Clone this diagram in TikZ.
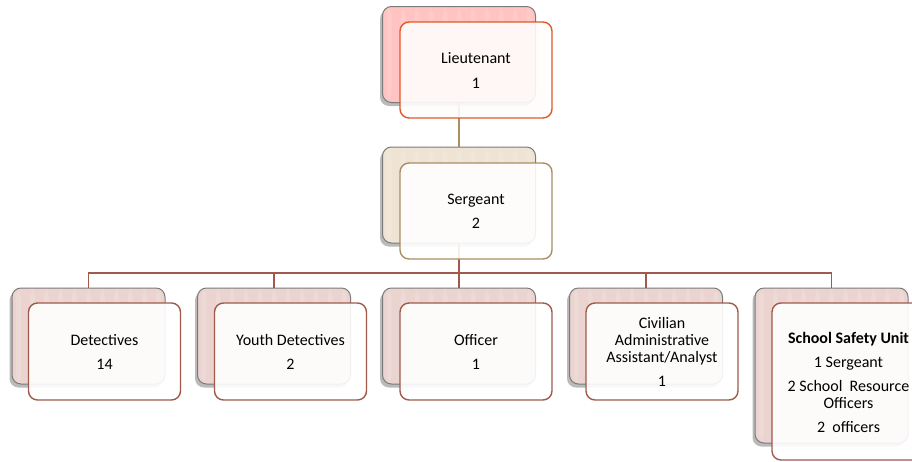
\documentclass[tikz,border=0pt]{standalone}
\usepackage{fontspec}
\setmainfont{Carlito}
\usetikzlibrary{shadows}
\definecolor{ltback}{HTML}{FFC3C1}
\definecolor{ltline}{HTML}{E0582A}
\definecolor{sgback}{HTML}{EFE3D4}
\definecolor{sgline}{HTML}{A88E62}
\definecolor{bback}{HTML}{EBD4D0}
\definecolor{bline}{HTML}{A0594B}
\definecolor{gborder}{HTML}{7A7A7A}
\tikzset{
  stripes/.style={path picture={\foreach \k in {0,...,11}{\fill[white,opacity=0.12] ([xshift=\k*14pt+4pt]path picture bounding box.north west) rectangle ([xshift=\k*14pt+9pt]path picture bounding box.south west);}}},
  backbox/.style={rectangle, rounded corners=9pt, draw=gborder, line width=1pt, minimum width=153pt, minimum height=96pt, inner sep=0pt, stripes, drop shadow={shadow xshift=-2.5pt, shadow yshift=-3.5pt, opacity=0.45, fill=black!60}},
  frontbox/.style={rectangle, rounded corners=9pt, line width=1.4pt, fill=white, fill opacity=0.9, text opacity=1, minimum width=152pt, minimum height=96pt, inner sep=0pt, align=center, font=\fontsize{16}{17}\selectfont},
  conn/.style={line width=1.8pt},
}
\begin{document}
\begin{tikzpicture}[x=1pt,y=-1pt]
\useasboundingbox (0,0) rectangle (912,461);
\clip (0,0) rectangle (912,461);
% back boxes
\node[backbox, fill=ltback] (ltb) at (459,54.5) {};
\node[backbox, fill=sgback] (sgb) at (459,195) {};
\node[backbox, fill=bback] (detb) at (88.5,336) {};
\node[backbox, fill=bback] (youb) at (274,336) {};
\node[backbox, fill=bback] (offb) at (459,336) {};
\node[backbox, fill=bback] (civb) at (646,336) {};
\node[backbox, fill=bback, minimum height=155pt] (schb) at (831.5,365.5) {};
% connectors
\coordinate (bus) at (459,273);
\draw[conn, sgline] (ltb.south) -- (sgb.north);
\draw[conn, bline] (sgb.south) -- (bus) -| (detb.north);
\draw[conn, bline] (bus) -| (youb.north);
\draw[conn, bline] (bus) -- (offb.north);
\draw[conn, bline] (bus) -| (civb.north);
\draw[conn, bline] (bus) -| (schb.north);
% front boxes
\node[frontbox, draw=ltline, fill=red!1] (lt) at (476,70) {Lieutenant\\[8pt]1};
\node[frontbox, draw=sgline] (sg) at (476,211) {Sergeant\\[7pt]2};
\node[frontbox, draw=bline, minimum height=97pt] (det) at (104.5,351.5) {Detectives\\[7pt]14};
\node[frontbox, draw=bline, minimum height=97pt] (you) at (290.5,351.5) {Youth Detectives\\[7pt]2};
\node[frontbox, draw=bline, minimum height=97pt] (off) at (476,351.5) {Officer\\[7pt]1};
\node[frontbox, draw=bline, minimum height=97pt] (civ) at (662,351.5) {Civilian\\Administrative\\Assistant/Analyst\\[7pt]1};
\node[frontbox, draw=bline, minimum width=153pt, minimum height=157pt] (sch) at (848.5,381.5) {};
\node[align=center, font=\fontsize{16}{17}\selectfont, inner sep=0pt] (schtxt) at (848.5,382) {\textbf{School Safety Unit}\\[7pt]1 Sergeant\\[7pt]2 School\ \ Resource\\Officers\\[7pt]2\ \ officers};
\end{tikzpicture}
\end{document}
